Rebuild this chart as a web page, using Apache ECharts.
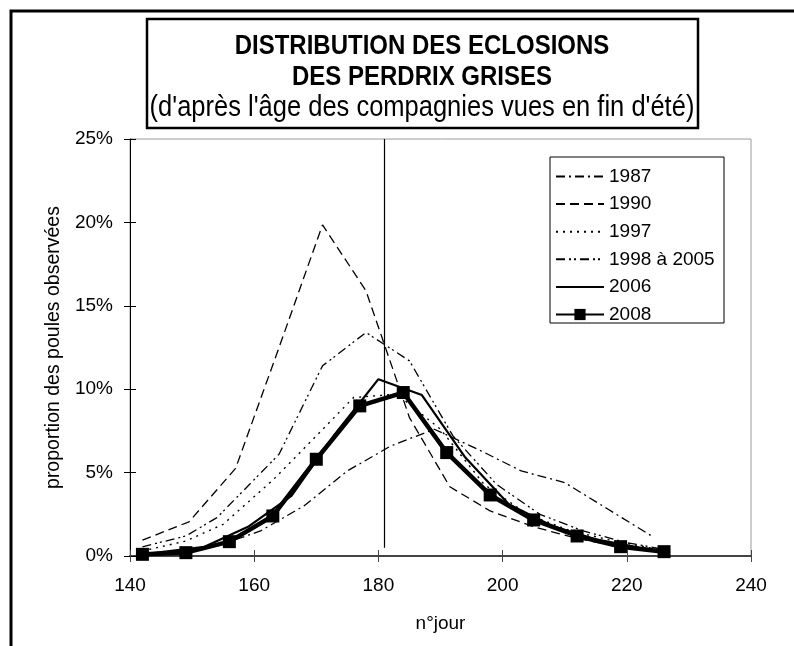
<!DOCTYPE html>
<html>
<head>
<meta charset="utf-8">
<script src="https://cdn.jsdelivr.net/npm/echarts@6/dist/echarts.min.js"></script>
<style>
  html, body { margin: 0; padding: 0; background: #fff; }
  #chart { width: 794px; height: 646px; }
</style>
</head>
<body>
<div id="chart"></div>
<script>
// Day of year for each observation and share of hens (in %) per year
const days1987 = [142, 147, 154, 161, 168, 175, 182, 189, 196, 203, 210, 217, 224];
const vals1987 = [0.1, 0.25, 0.6, 1.5, 3.0, 5.1, 6.6, 7.6, 6.4, 5.1, 4.4, 2.8, 1.2];

const days1990 = [142, 149.5, 157, 164, 171, 178, 185, 191.5, 198, 205, 212, 219, 226];
const vals1990 = [0.95, 2.05, 5.25, 12.5, 19.85, 15.9, 8.3, 4.15, 2.7, 1.75, 1.05, 0.55, 0.3];

const days1997 = [142, 149, 155, 163, 170, 176, 183, 190, 197, 204, 211, 218, 225];
const vals1997 = [0.3, 0.9, 1.9, 4.55, 7.2, 9.5, 9.7, 7.6, 4.3, 2.5, 1.5, 0.9, 0.4];

const days9805 = [142, 149, 154, 164, 171, 178, 185, 192, 199, 206, 213, 220, 226];
const vals9805 = [0.55, 1.2, 2.3, 6.1, 11.4, 13.4, 11.7, 7.2, 4.3, 2.5, 1.5, 0.8, 0.4];

const days2006 = [142, 152, 159, 166, 173, 180, 187, 194, 201, 208, 215, 222, 226];
const vals2006 = [0.1, 0.55, 1.75, 3.6, 7.3, 10.6, 9.65, 5.9, 3.1, 1.8, 1.0, 0.5, 0.3];

const days2008 = [142, 149, 156, 163, 170, 177, 184, 191, 198, 205, 212, 219, 226];
const vals2008 = [0.1, 0.2, 0.86, 2.4, 5.8, 9.0, 9.8, 6.2, 3.66, 2.16, 1.2, 0.56, 0.26];

const legendNames = ['1987', '1990', '1997', '1998 à 2005', '2006', '2008'];

// 30 June marker (day of year) and where its label sits on the value axis
const juneDay = 181;
const juneLabelAt = 21.4;

const xTicks = { min: 140, max: 240, step: 20 };
const yTicks = { min: 0, max: 25, step: 5 };

const FONT = 'Liberation Sans, Arial, Helvetica, sans-serif';

function pairs(ds, vs) { return ds.map((d, i) => [d, vs[i]]); }

function thinLine(name, ds, vs, dash, width) {
  return {
    name: name,
    type: 'line',
    data: pairs(ds, vs),
    symbol: 'none',
    showSymbol: false,
    lineStyle: { color: '#000', width: width, type: dash },
    itemStyle: { color: '#000' },
    z: 3,
    silent: true,
    animation: false
  };
}

// legend entries: plain line samples, only 2008 keeps its square
const legendData = legendNames.map(n => n === '2008'
  ? { name: n }
  : { name: n, itemStyle: { opacity: 0 } });

const chart = echarts.init(document.getElementById('chart'), null, { renderer: 'canvas' });

chart.setOption({
  animation: false,
  textStyle: { fontFamily: FONT },
  grid: {
    left: 130, right: 43, top: 139, bottom: 90,
    show: true, borderColor: '#9a9a9a', borderWidth: 1, backgroundColor: 'transparent'
  },
  legend: {
    orient: 'vertical',
    left: 550,
    top: 162,
    padding: 5,
    itemWidth: 48,
    itemHeight: 14,
    itemGap: 8.6,
    selectedMode: false,
    textStyle: { fontFamily: FONT, fontSize: 19, color: '#000', lineHeight: 18 },
    data: legendData
  },
  xAxis: [{
    type: 'value',
    min: xTicks.min, max: xTicks.max, interval: xTicks.step,
    name: 'n°jour',
    nameLocation: 'middle',
    nameGap: 58,
    nameTextStyle: { fontFamily: FONT, fontSize: 19, color: '#000' },
    axisLine: { show: true, lineStyle: { color: '#444', width: 2 } },
    axisTick: { show: true, inside: false, length: 6, lineStyle: { color: '#444', width: 1 } },
    axisLabel: { fontFamily: FONT, fontSize: 19, color: '#000', margin: 20 },
    splitLine: { show: false }
  }, {
    type: 'value',
    position: 'bottom',
    min: xTicks.min, max: xTicks.max, interval: xTicks.step,
    axisLine: { show: false },
    axisTick: { show: true, inside: true, length: 6, lineStyle: { color: '#444', width: 1 } },
    axisLabel: { show: false },
    splitLine: { show: false }
  }],
  yAxis: [{
    type: 'value',
    min: yTicks.min, max: yTicks.max, interval: yTicks.step,
    name: 'proportion des poules observées',
    nameLocation: 'middle',
    nameGap: 66,
    nameRotate: 90,
    nameTextStyle: { fontFamily: FONT, fontSize: 19.5, color: '#000' },
    axisLine: { show: true, lineStyle: { color: '#000', width: 1 } },
    axisTick: { show: true, inside: false, length: 6, lineStyle: { color: '#000' } },
    axisLabel: { fontFamily: FONT, fontSize: 19, color: '#000', margin: 17, formatter: '{value}%' },
    splitLine: { show: false }
  }, {
    type: 'value',
    position: 'left',
    min: yTicks.min, max: yTicks.max, interval: yTicks.step,
    axisLine: { show: false },
    axisTick: { show: true, inside: true, length: 6, lineStyle: { color: '#000' } },
    axisLabel: { show: false },
    splitLine: { show: false }
  }],
  series: [
    Object.assign(thinLine('1987', days1987, vals1987, [9, 4, 2, 4], 1.3), {
      markLine: {
        silent: true,
        symbol: 'none',
        animation: false,
        label: { show: false },
        lineStyle: { color: '#000', width: 1.2, type: 'solid' },
        data: [[{ coord: [juneDay, 0.5] }, { coord: [juneDay, yTicks.max] }]]
      },
      markPoint: {
        silent: true,
        symbol: 'none',
        animation: false,
        data: [{ coord: [juneDay, juneLabelAt] }],
        label: {
          show: true, position: 'right', distance: 4, formatter: '30 juin',
          fontFamily: FONT, fontSize: 17, color: '#000'
        }
      }
    }),
    thinLine('1990', days1990, vals1990, [9, 5], 1.3),
    thinLine('1997', days1997, vals1997, [2, 5], 1.4),
    thinLine('1998 à 2005', days9805, vals9805, [9, 4, 2, 3, 2, 4], 1.3),
    thinLine('2006', days2006, vals2006, 'solid', 2.2),
    {
      name: '2008',
      type: 'line',
      data: pairs(days2008, vals2008),
      symbol: 'rect',
      symbolSize: 13,
      showSymbol: true,
      lineStyle: { color: '#000', width: 4.5 },
      itemStyle: { color: '#000', borderWidth: 0 },
      z: 4,
      silent: true,
      animation: false
    }
  ],
  graphic: [
    // outer frame (top and left edges show inside the page)
    { type: 'rect', shape: { x: 11, y: 11, width: 1000, height: 1000 },
      style: { fill: 'none', stroke: '#000', lineWidth: 3 }, z: 10, silent: true },
    // title box
    { type: 'rect', shape: { x: 147, y: 19, width: 551, height: 109 },
      style: { fill: '#fff', stroke: '#000', lineWidth: 2.5 }, z: 10, silent: true },
    { type: 'text', x: 422, y: 46, scaleY: 1.18, z: 11, silent: true,
      style: { text: 'DISTRIBUTION DES ECLOSIONS', fill: '#000', font: 'bold 24px ' + FONT,
               textAlign: 'center', textVerticalAlign: 'middle' } },
    { type: 'text', x: 422, y: 77, scaleY: 1.18, z: 11, silent: true,
      style: { text: 'DES PERDRIX GRISES', fill: '#000', font: 'bold 24px ' + FONT,
               textAlign: 'center', textVerticalAlign: 'middle' } },
    { type: 'text', x: 422, y: 108, scaleY: 1.18, z: 11, silent: true,
      style: { text: "(d'après l'âge des compagnies vues en fin d'été)", fill: '#000', font: '25.5px ' + FONT,
               textAlign: 'center', textVerticalAlign: 'middle' } },
    // legend frame
    { type: 'rect', shape: { x: 550, y: 157, width: 174, height: 166 },
      style: { fill: '#fff', stroke: '#000', lineWidth: 1 }, z: 1, silent: true }
  ]
});
</script>
</body>
</html>
